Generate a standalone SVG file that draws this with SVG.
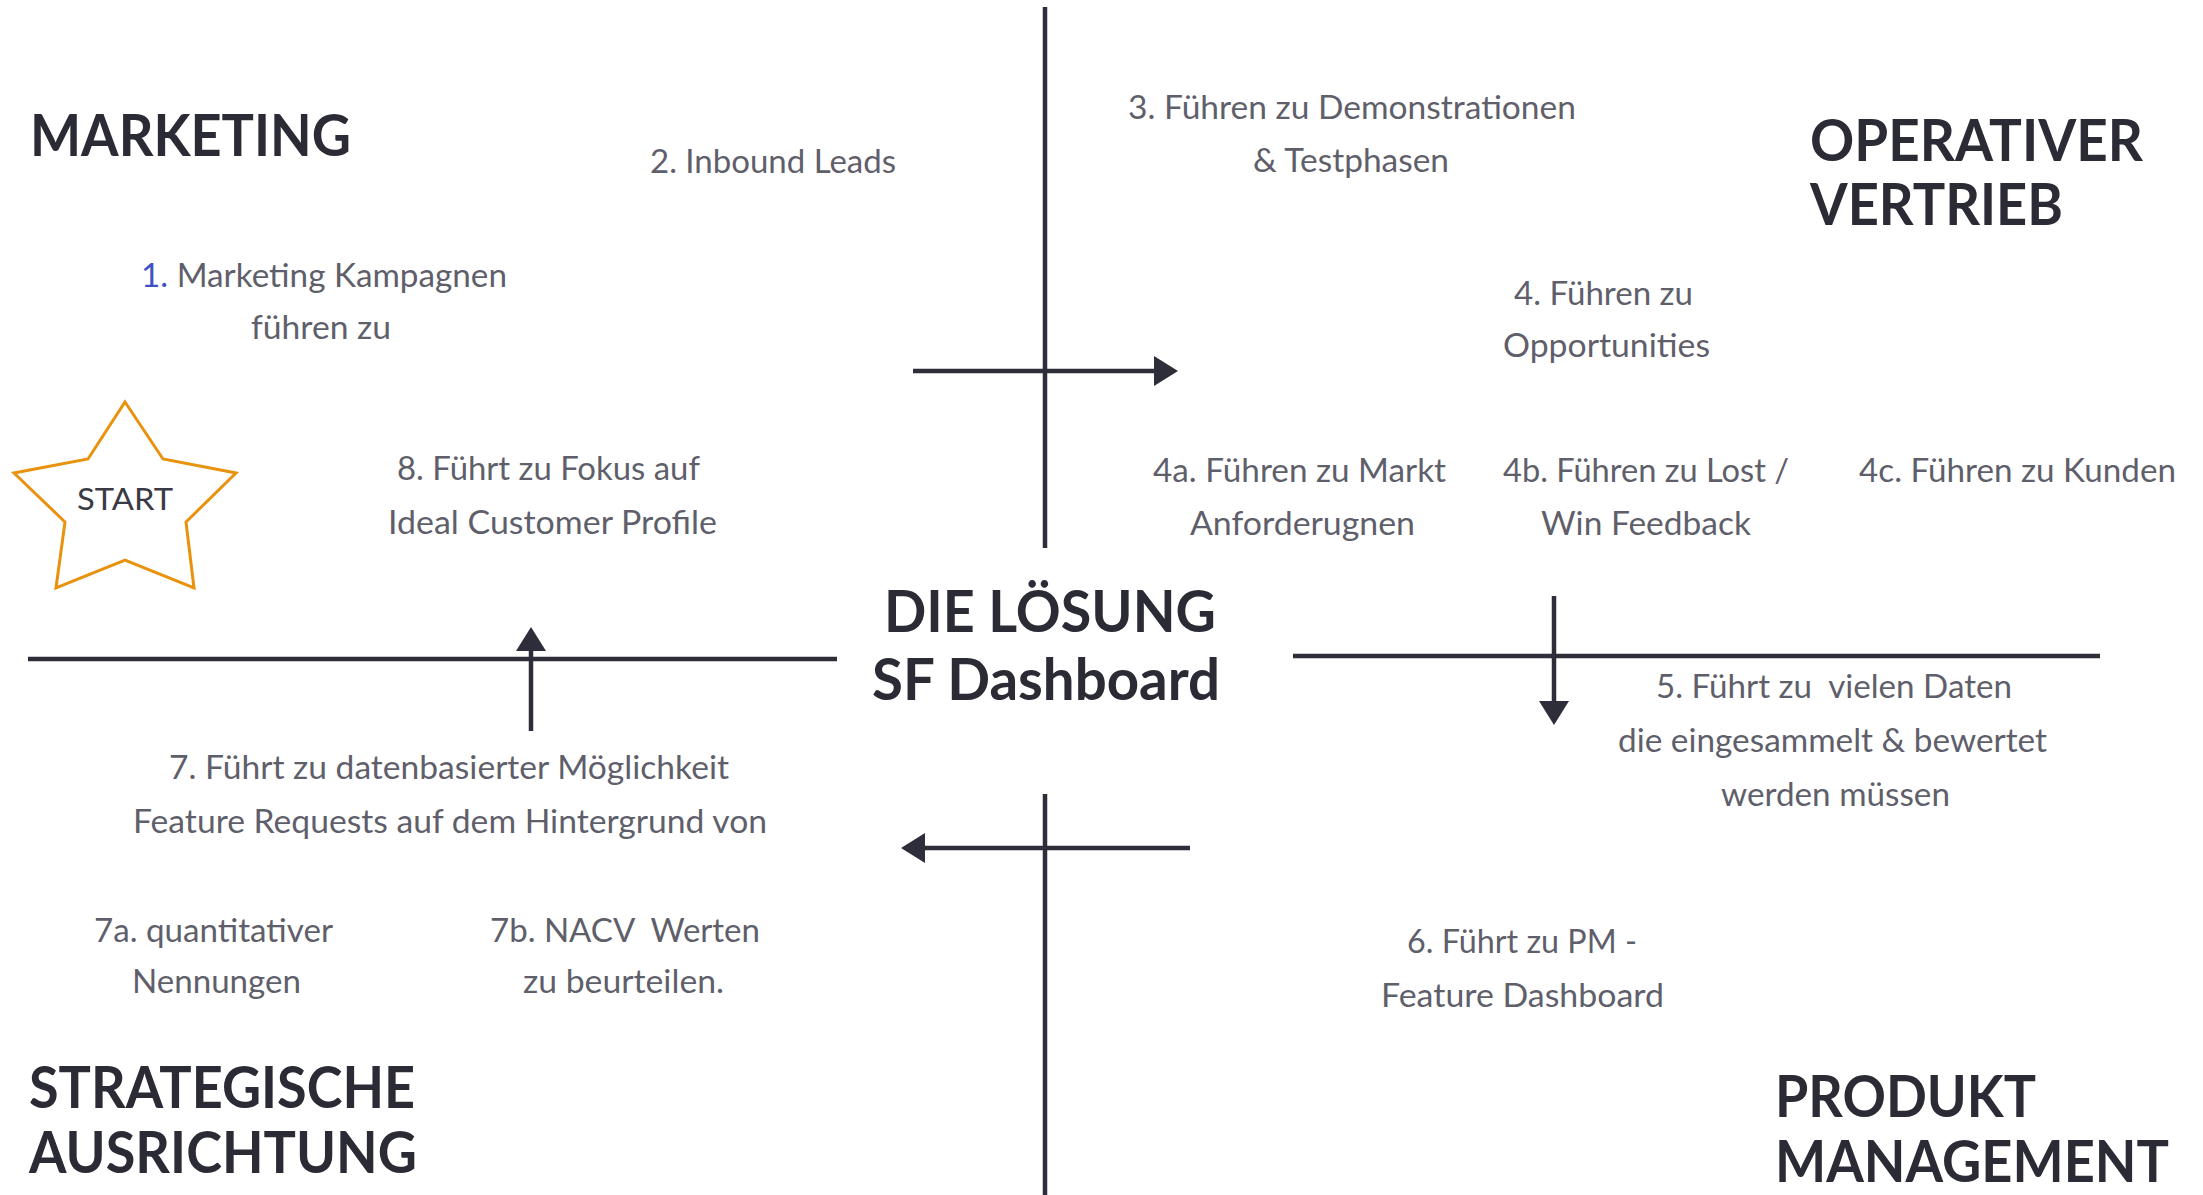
<svg xmlns="http://www.w3.org/2000/svg" width="2203" height="1195" viewBox="0 0 2203 1195">
  <defs>
    <style>
      .head { font-family: Lato, "Liberation Sans", sans-serif; font-weight: 700; font-size: 58px; fill: #2b2b36; }
      .center { font-family: Lato, "Liberation Sans", sans-serif; font-weight: 700; font-size: 58px; fill: #2b2b36; }
      .body { font-family: Lato, "Liberation Sans", sans-serif; font-size: 32px; fill: #5f5f6b; }
      .ln { stroke: #2e2e3a; stroke-width: 4.5; fill: none; }
    </style>
    <marker id="ah" viewBox="0 0 24 30" refX="1" refY="15" markerWidth="24" markerHeight="30" markerUnits="userSpaceOnUse" orient="auto">
      <path d="M0,0 L24,15 L0,30 Z" fill="#2e2e3a"/>
    </marker>
  </defs>
  <rect width="2203" height="1195" fill="#ffffff"/>

  <g id="connectors">
    <line class="ln" x1="1045" y1="7" x2="1045" y2="548"/>
    <line class="ln" x1="1045" y1="794" x2="1045" y2="1195"/>
    <line class="ln" x1="913" y1="371" x2="1155" y2="371" marker-end="url(#ah)"/>
    <line class="ln" x1="28" y1="659" x2="837" y2="659"/>
    <line class="ln" x1="531" y1="731" x2="531" y2="650" marker-end="url(#ah)"/>
    <line class="ln" x1="1293" y1="656" x2="2100" y2="656"/>
    <line class="ln" x1="1554" y1="596" x2="1554" y2="702" marker-end="url(#ah)"/>
    <line class="ln" x1="1190" y1="848" x2="924" y2="848" marker-end="url(#ah)"/>
  </g>

  <g id="marketing">
    <text class="head" x="30" y="156" textLength="321" lengthAdjust="spacingAndGlyphs">MARKETING</text>
  </g>
  <g id="operativer-vertrieb">
    <text class="head" x="1810" y="161" textLength="333" lengthAdjust="spacingAndGlyphs">OPERATIVER</text>
    <text class="head" x="1810" y="225" textLength="253" lengthAdjust="spacingAndGlyphs">VERTRIEB</text>
  </g>
  <g id="strategische-ausrichtung">
    <text class="head" x="29" y="1108" textLength="386" lengthAdjust="spacingAndGlyphs">STRATEGISCHE</text>
    <text class="head" x="29" y="1173" textLength="388" lengthAdjust="spacingAndGlyphs">AUSRICHTUNG</text>
  </g>
  <g id="produkt-management">
    <text class="head" x="1775" y="1117" textLength="261" lengthAdjust="spacingAndGlyphs">PRODUKT</text>
    <text class="head" x="1775" y="1182" textLength="394" lengthAdjust="spacingAndGlyphs">MANAGEMENT</text>
  </g>
  <g id="loesung">
    <text class="center" x="884" y="632" textLength="332" lengthAdjust="spacingAndGlyphs">DIE LÖSUNG</text>
    <text class="center" x="872" y="700" textLength="348" lengthAdjust="spacingAndGlyphs">SF Dashboard</text>
  </g>

  <g id="start">
    <polygon points="125,402 163,459 236,473 186,522 194,588 125,560 56,588 65,522 14,473 88,459" fill="#ffffff" stroke="#e8920e" stroke-width="3"/>
    <text x="77" y="510" font-family="Lato, 'Liberation Sans', sans-serif" font-size="31" fill="#3a3a44" textLength="96" lengthAdjust="spacingAndGlyphs">START</text>
  </g>

  <g id="step1">
    <text class="body" x="141" y="287" textLength="366" lengthAdjust="spacingAndGlyphs"><tspan fill="#3f51c8">1.</tspan> Marketing Kampagnen</text>
    <text class="body" x="251" y="339" textLength="140" lengthAdjust="spacingAndGlyphs">führen zu</text>
  </g>
  <g id="step2">
    <text class="body" x="650" y="173" textLength="246" lengthAdjust="spacingAndGlyphs">2. Inbound Leads</text>
  </g>
  <g id="step3">
    <text class="body" x="1128" y="119" textLength="448" lengthAdjust="spacingAndGlyphs">3. Führen zu Demonstrationen</text>
    <text class="body" x="1253" y="172" textLength="196" lengthAdjust="spacingAndGlyphs">&amp; Testphasen</text>
  </g>
  <g id="step4">
    <text class="body" x="1514" y="305" textLength="179" lengthAdjust="spacingAndGlyphs">4. Führen zu</text>
    <text class="body" x="1503" y="357" textLength="207" lengthAdjust="spacingAndGlyphs">Opportunities</text>
  </g>
  <g id="step4a">
    <text class="body" x="1153" y="482" textLength="293" lengthAdjust="spacingAndGlyphs">4a. Führen zu Markt</text>
    <text class="body" x="1190" y="535" textLength="225" lengthAdjust="spacingAndGlyphs">Anforderugnen</text>
  </g>
  <g id="step4b">
    <text class="body" x="1503" y="482" textLength="286" lengthAdjust="spacingAndGlyphs">4b. Führen zu Lost /</text>
    <text class="body" x="1541" y="535" textLength="210" lengthAdjust="spacingAndGlyphs">Win Feedback</text>
  </g>
  <g id="step4c">
    <text class="body" x="1859" y="482" textLength="317" lengthAdjust="spacingAndGlyphs">4c. Führen zu Kunden</text>
  </g>
  <g id="step5">
    <text class="body" x="1656" y="698" xml:space="preserve" textLength="356" lengthAdjust="spacingAndGlyphs">5. Führt zu  vielen Daten</text>
    <text class="body" x="1618" y="752" textLength="429" lengthAdjust="spacingAndGlyphs">die eingesammelt &amp; bewertet</text>
    <text class="body" x="1721" y="806" textLength="229" lengthAdjust="spacingAndGlyphs">werden müssen</text>
  </g>
  <g id="step6">
    <text class="body" x="1407" y="953" textLength="230" lengthAdjust="spacingAndGlyphs">6. Führt zu PM -</text>
    <text class="body" x="1381" y="1007" textLength="283" lengthAdjust="spacingAndGlyphs">Feature Dashboard</text>
  </g>
  <g id="step7">
    <text class="body" x="169" y="779" textLength="560" lengthAdjust="spacingAndGlyphs">7. Führt zu datenbasierter Möglichkeit</text>
    <text class="body" x="133" y="833" textLength="634" lengthAdjust="spacingAndGlyphs">Feature Requests auf dem Hintergrund von</text>
  </g>
  <g id="step7a">
    <text class="body" x="94" y="942" textLength="239" lengthAdjust="spacingAndGlyphs">7a. quantitativer</text>
    <text class="body" x="132" y="993" textLength="169" lengthAdjust="spacingAndGlyphs">Nennungen</text>
  </g>
  <g id="step7b">
    <text class="body" x="490" y="942" xml:space="preserve" textLength="270" lengthAdjust="spacingAndGlyphs">7b. NACV  Werten</text>
    <text class="body" x="523" y="993" textLength="201" lengthAdjust="spacingAndGlyphs">zu beurteilen.</text>
  </g>
  <g id="step8">
    <text class="body" x="397" y="480" textLength="303" lengthAdjust="spacingAndGlyphs">8. Führt zu Fokus auf</text>
    <text class="body" x="388" y="534" textLength="329" lengthAdjust="spacingAndGlyphs">Ideal Customer Profile</text>
  </g>
</svg>
